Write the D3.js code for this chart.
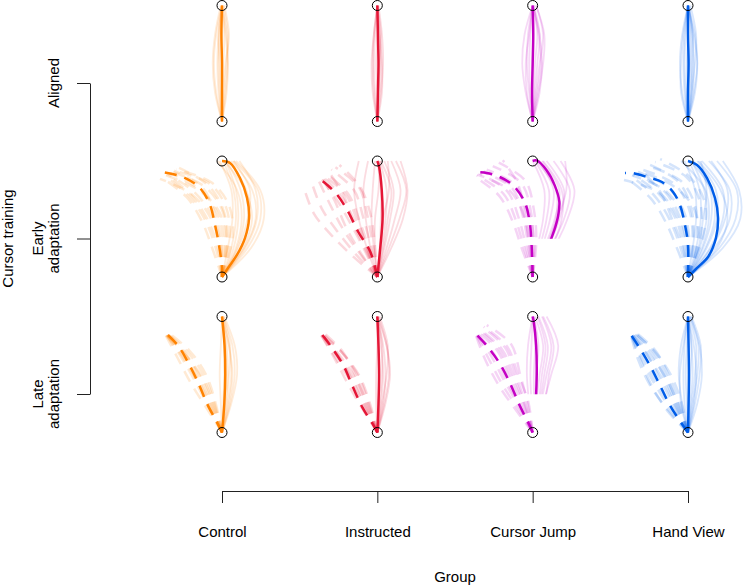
<!DOCTYPE html>
<html>
<head>
<meta charset="utf-8">
<script src="https://cdn.jsdelivr.net/npm/d3@7"></script>
<style>
  body { margin: 0; background: #fff; }
  text { font-family: "Liberation Sans", Arial, sans-serif; font-size: 15px; fill: #000; }
</style>
</head>
<body>
<div id="chart"></div>
<script>
const width = 749;
const height = 586;

// Groups (columns) and training phases (rows)
const groups = ["Control", "Instructed", "Cursor Jump", "Hand View"];
const groupColors = ["#ff8200", "#e51636", "#c400c4", "#005de8"];
const phases = ["Aligned", "Early adaptation", "Late adaptation"];
const phaseLabels = [["Aligned"], ["Early", "adaptation"], ["Late", "adaptation"]];

// cursor is rotated counter-clockwise by this many degrees
const rotation = 30;
// hand path is only shown beyond this distance from the start (Cursor Jump)
const handShownFrom = [0, 0, 3.3, 0];

// reach units: start at (0,0), target at (0,10)
// mean hand paths [x, y]
const alignedHand = [
  [[0, 0], [0, 2.5], [0, 5], [-0.05, 7.5], [0, 10]],
  [[0, 0], [0.05, 2.5], [0.1, 5], [0.05, 7.5], [0, 10]],
  [[0, 0], [-0.05, 2.5], [0, 5], [0.05, 7.5], [0, 10]],
  [[0, 0], [0, 2.5], [0.05, 5], [0, 7.5], [0, 10]]
];
const earlyHand = [
  [[0, 0], [0.52, 0.78], [1.29, 1.9], [1.98, 3.36], [2.33, 5.09], [2.16, 6.81], [1.55, 8.53], [0.69, 9.83], [0, 10]],
  [[0, 0], [0.25, 2.5], [0.45, 5], [0.38, 7.5], [0.15, 9.5], [0, 10]],
  [[0, 0], [0.6, 1.0], [1.2, 2.2], [1.6, 3.3], [1.95, 4.3], [2.2, 5.3], [2.3, 6.5], [1.9, 7.9], [1.2, 9.2], [0.34, 10.05], [0, 10]],
  [[0, 0], [0.78, 0.78], [1.72, 1.72], [2.41, 3.36], [2.59, 5.09], [2.33, 6.81], [1.64, 8.53], [0.78, 9.66], [0, 10]]
];
const lateHand = [
  [[0, 0], [0.2, 2.5], [0.28, 5], [0.22, 7.5], [0, 10]],
  [[0, 0], [0.1, 2.5], [0.15, 5], [0.1, 7.5], [0, 10]],
  [[0, 0], [0.25, 2.5], [0.35, 5], [0.3, 7.5], [0.1, 9.5], [0, 10]],
  [[0, 0], [0.05, 2.5], [0.08, 5], [0.05, 7.5], [0, 10]]
];

// mean cursor paths [x, y]
const earlyCursor = [
  [[0, 0], [0, 0.78], [-0.26, 2.76], [-0.6, 4.48], [-1.03, 6.2], [-1.9, 7.67], [-3.36, 8.62], [-5.17, 9.05]],
  [[0, 0], [-0.6, 2.16], [-1.64, 3.88], [-2.5, 5.6], [-3.45, 7.07], [-4.31, 7.93], [-5.09, 8.53]],
  [[0, 0], [-0.09, 2.76], [-0.26, 4.74], [-0.69, 6.47], [-1.72, 7.93], [-2.84, 8.62], [-3.97, 8.97], [-5.17, 9.05]],
  [[0, 0], [0, 2.76], [-0.26, 4.48], [-0.69, 6.2], [-1.29, 7.33], [-2.24, 8.19], [-3.53, 8.62], [-4.83, 8.97], [-5.43, 8.97]]
];
const lateCursor = [
  [[0, 0], [-0.5, 1.0], [-1.25, 2.4], [-1.95, 4.05], [-2.8, 5.8], [-3.8, 7.5], [-5.1, 8.8]],
  [[0, 0], [-0.43, 0.78], [-1.29, 2.16], [-2.16, 4.05], [-2.93, 5.78], [-4.05, 7.5], [-4.91, 8.62]],
  [[0, 0], [-0.26, 0.6], [-1.12, 2.33], [-1.98, 4.31], [-2.84, 5.95], [-3.97, 7.5], [-5.0, 8.62]],
  [[0, 0], [-0.43, 0.6], [-1.55, 2.33], [-2.41, 4.05], [-3.28, 5.78], [-4.31, 7.5], [-5.17, 8.79]]
];

// individual participants: hand x at these reach heights
const sampleHeights = [2.5, 5, 7.5, 10];
const alignedPeople = [
  [[-0.5, -0.7, -0.5, 0], [-0.3, -0.4, -0.3, 0], [0.2, 0.4, 0.5, 0.1], [0.3, 0.5, 0.4, 0], [-0.2, -0.3, -0.2, 0],
   [0.1, 0.3, 0.6, 0.2], [-0.6, -0.8, -0.6, -0.1], [0, 0.1, 0.2, 0], [0.4, 0.5, 0.3, 0], [-0.1, -0.2, -0.3, 0]],
  [[-0.3, -0.4, -0.3, 0], [0.2, 0.3, 0.2, 0], [0.3, 0.5, 0.4, 0.1], [-0.2, -0.3, -0.2, 0], [0.1, 0.2, 0.3, 0],
   [-0.4, -0.5, -0.3, 0], [0.4, 0.4, 0.2, 0], [0, -0.1, 0, 0]],
  [[-0.6, -0.9, -0.7, 0], [-0.3, -0.5, -0.4, 0], [0.3, 0.6, 0.9, 0.3], [0.5, 0.9, 1.0, 0.3], [0.2, 0.4, 0.6, 0.1],
   [-0.2, -0.3, -0.2, 0], [0.4, 0.7, 0.5, 0], [-0.5, -0.6, -0.3, 0], [0.1, 0.2, 0.4, 0.1], [0.6, 0.8, 0.6, 0]],
  [[-0.5, -0.7, -0.5, 0], [-0.3, -0.4, -0.3, 0], [0.3, 0.6, 0.7, 0.2], [0.5, 0.8, 0.6, 0], [0.2, 0.4, 0.4, 0],
   [-0.2, -0.3, -0.2, 0], [0.6, 0.8, 0.5, 0], [-0.6, -0.6, -0.4, 0], [0.1, 0.2, 0.2, 0], [0.4, 0.5, 0.4, 0.1],
   [-0.1, -0.1, 0, 0], [0.3, 0.3, 0.3, 0]]
];
const earlyPeople = [
  [[1.0, 1.4, 1.2, 0.3], [1.3, 1.9, 1.6, 0.4], [1.6, 2.4, 2.1, 0.6], [1.9, 2.9, 2.6, 0.8], [2.2, 3.3, 3.1, 1.0],
   [2.5, 3.6, 3.3, 1.2], [1.4, 2.2, 2.4, 1.0], [0.8, 1.2, 1.0, 0.1], [1.8, 2.6, 2.0, 0.2], [2.0, 3.0, 2.9, 1.5],
   [0.5, 0.9, 0.8, -0.2], [1.2, 1.7, 1.3, -0.4]],
  [[0.2, 0.3, 0.3, 0], [0.4, 0.7, 0.8, 0.2], [0.6, 1.1, 1.4, 0.6], [0.8, 1.5, 2.0, 1.2], [1.0, 1.9, 2.5, 1.6],
   [-0.3, -0.5, -0.4, -0.2], [-0.6, -1.0, -1.2, -0.8], [0.3, 0.5, 1.0, 0.9], [-0.9, -1.6, -2.0, -1.6],
   [0.5, 0.9, 1.2, 0.3], [1.2, 2.2, 2.6, 2.0], [-0.2, -0.2, 0.1, 0.2]],
  [[0.8, 1.5, 1.8, 0.5], [1.0, 1.9, 2.3, 0.8], [1.3, 2.3, 2.7, 1.2], [1.5, 2.7, 3.2, 1.8], [1.8, 3.0, 3.6, 2.4],
   [0.6, 1.2, 1.4, 0.2], [1.1, 2.1, 2.9, 2.8], [0.4, 0.9, 1.0, 0.0], [1.6, 2.5, 2.5, 0.9], [1.2, 2.0, 2.0, 0.3]],
  [[1.0, 1.6, 1.4, 0.3], [1.3, 2.0, 1.9, 0.5], [1.6, 2.5, 2.4, 0.8], [1.9, 3.0, 3.0, 1.2], [2.3, 3.6, 3.6, 1.8],
   [2.7, 4.1, 4.2, 2.5], [3.0, 4.5, 4.4, 3.0], [0.7, 1.1, 1.0, 0.1], [1.5, 2.3, 2.0, 0.2], [2.0, 3.2, 3.4, 2.0],
   [0.4, 0.7, 0.6, -0.3], [1.2, 1.8, 1.5, -0.6], [2.5, 3.4, 2.8, 0.9], [0.9, 1.3, 1.6, 1.1]]
];
const latePeople = [
  [[0.1, 0.2, 0.2, 0], [0.3, 0.5, 0.4, 0], [0.5, 0.8, 0.6, 0], [0.7, 1.1, 0.9, 0.1], [0.8, 1.3, 1.1, 0.2],
   [-0.1, -0.2, -0.1, 0], [0.2, 0.35, 0.3, 0], [0.4, 0.6, 0.7, 0.1], [0.6, 0.9, 0.6, 0]],
  [[0.1, 0.2, 0.1, 0], [0.3, 0.5, 0.3, 0], [0.5, 0.7, 0.5, 0], [0.6, 1.0, 0.8, 0.1], [-0.1, -0.1, 0, 0],
   [0.2, 0.4, 0.4, 0], [0.4, 0.8, 0.9, 0.2], [0.7, 1.1, 0.8, 0]],
  [[-0.3, -0.5, -0.4, 0], [0.2, 0.3, 0.5, 0.1], [0.5, 0.8, 1.1, 0.4], [0.7, 1.2, 1.6, 0.8], [0.9, 1.6, 2.2, 1.2],
   [0.3, 0.6, 0.9, 0.2], [0.1, 0.1, 0.2, 0], [0.6, 1.0, 1.3, 0.5], [-0.1, -0.2, -0.1, 0], [1.0, 1.4, 1.8, 0.9]],
  [[-0.5, -0.8, -0.6, 0], [-0.3, -0.4, -0.3, 0], [0.3, 0.6, 0.7, 0.1], [0.6, 1.0, 1.1, 0.3], [0.8, 1.2, 1.0, 0.2],
   [0.1, 0.2, 0.3, 0], [-0.1, -0.2, -0.1, 0], [0.4, 0.8, 0.9, 0.2], [0.2, 0.4, 0.3, 0], [-0.6, -0.7, -0.4, 0],
   [0.5, 0.7, 0.5, 0]]
];

const handMeans = [alignedHand, earlyHand, lateHand];
const cursorMeans = [null, earlyCursor, lateCursor];
const people = [alignedPeople, earlyPeople, latePeople];

const svg = d3.select("#chart")
    .append("svg")
    .attr("width", width)
    .attr("height", height);

// Scales: columns, rows, and reach units inside a cell
const x = d3.scalePoint().domain(groups).range([222, 688]);
const y = d3.scalePoint().domain(phases).range([83, 394]);
const ux = d3.scaleLinear().domain([0, 10]).range([0, 116]);
const uy = d3.scaleLinear().domain([0, 10]).range([38.5, -77.5]);

const line = d3.line().curve(d3.curveCatmullRom.alpha(0.5));

function rotate(p) {
    const a = rotation * Math.PI / 180;
    return [p[0] * Math.cos(a) - p[1] * Math.sin(a), p[0] * Math.sin(a) + p[1] * Math.cos(a)];
}

function personPath(xs) {
    return [[0, 0]].concat(xs.map((v, i) => [v, sampleHeights[i]]));
}

const defs = svg.append("defs");

phases.forEach((phase, pi) => {
    groups.forEach((group, gi) => {
        const cx = x(group), cy = y(phase);
        const toPx = pts => pts.map(p => [cx + ux(p[0]), cy + uy(p[1])]);
        const color = groupColors[gi];
        const cell = svg.append("g");

        let handLayer = cell;
        if (pi > 0 && handShownFrom[gi] > 0) {
            const id = "clip-" + pi + "-" + gi;
            defs.append("clipPath").attr("id", id)
                .append("rect")
                .attr("x", cx - 80).attr("width", 160)
                .attr("y", cy + uy(13))
                .attr("height", uy(handShownFrom[gi]) - uy(13));
            handLayer = cell.append("g").attr("clip-path", "url(#" + id + ")");
        }

        const indiv = people[pi][gi].map(personPath);

        // individual cursor paths (dashed)
        if (pi > 0) {
            cell.selectAll(".pc")
                .data(indiv)
                .enter().append("path")
                .attr("d", d => line(toPx(d.map(rotate))))
                .attr("fill", "none")
                .attr("stroke", color)
                .attr("stroke-opacity", 0.17)
                .attr("stroke-width", 2.5)
                .attr("stroke-dasharray", "12,8");
        }

        // individual hand paths
        handLayer.selectAll(".ph")
            .data(indiv)
            .enter().append("path")
            .attr("d", d => line(toPx(d)))
            .attr("fill", "none")
            .attr("stroke", color)
            .attr("stroke-opacity", 0.15)
            .attr("stroke-width", 1.8);

        // mean cursor
        if (pi > 0) {
            cell.append("path")
                .attr("d", line(toPx(cursorMeans[pi][gi])))
                .attr("fill", "none")
                .attr("stroke", color)
                .attr("stroke-width", 2.5)
                .attr("stroke-dasharray", "12,8");
        }

        // mean hand
        handLayer.append("path")
            .attr("d", line(toPx(handMeans[pi][gi])))
            .attr("fill", "none")
            .attr("stroke", color)
            .attr("stroke-width", 2.5);

        // start and target
        cell.selectAll("circle")
            .data([[0, 0], [0, 10]])
            .enter().append("circle")
            .attr("cx", d => cx + ux(d[0]))
            .attr("cy", d => cy + uy(d[1]))
            .attr("r", 5)
            .attr("fill", "none")
            .attr("stroke", "#000")
            .attr("stroke-width", 1);
    });
});

// Bottom axis (groups)
const xAxis = svg.append("g")
    .attr("transform", "translate(0,491)")
    .call(d3.axisBottom(x).tickSize(12).tickSizeOuter(0).tickPadding(23));
xAxis.attr("font-size", 15).attr("font-family", '"Liberation Sans", Arial, sans-serif');
xAxis.selectAll("path, line").attr("stroke", "#222");

// Left axis (phases)
const yAxis = svg.append("g")
    .attr("transform", "translate(90,0)")
    .call(d3.axisLeft(y).tickSize(13).tickSizeOuter(0).tickFormat(""));
yAxis.selectAll("path, line").attr("stroke", "#222");

// Row labels
phases.forEach((phase, pi) => {
    const lines = phaseLabels[pi];
    lines.forEach((txt, li) => {
        const bx = 59 - (lines.length - 1 - li) * 16;
        svg.append("text")
            .attr("transform", "translate(" + bx + "," + y(phase) + ") rotate(-90)")
            .attr("text-anchor", "middle")
            .text(txt);
    });
});

svg.append("text")
    .attr("transform", "translate(13," + y("Early adaptation") + ") rotate(-90)")
    .attr("text-anchor", "middle")
    .text("Cursor training");

svg.append("text")
    .attr("x", (x("Control") + x("Hand View")) / 2)
    .attr("y", 582)
    .attr("text-anchor", "middle")
    .text("Group");
</script>
</body>
</html>
